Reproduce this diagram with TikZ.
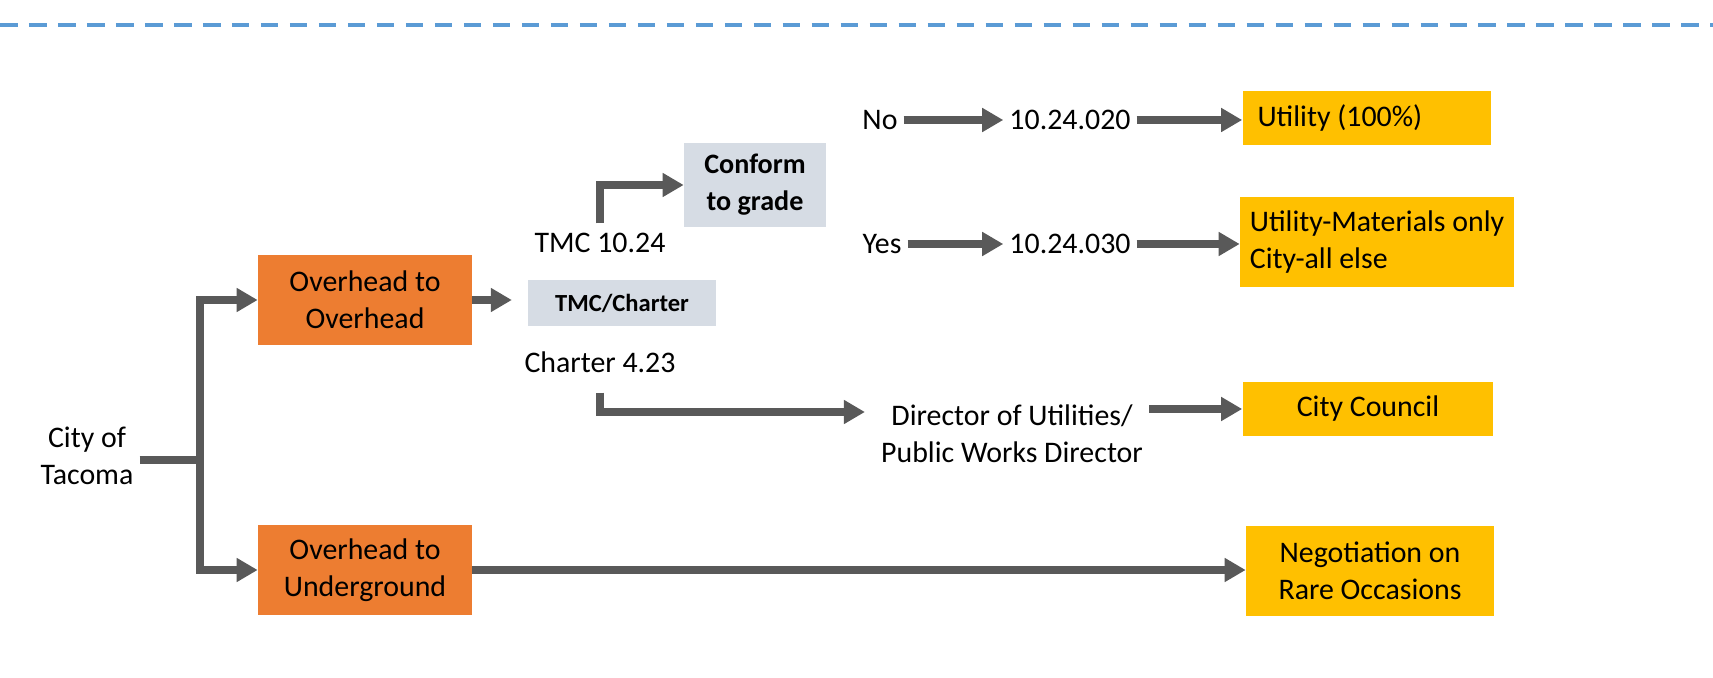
\documentclass[tikz,border=0pt]{standalone}
\usepackage{fontspec}
\setmainfont{Carlito}
\usetikzlibrary{arrows.meta}

\definecolor{orng}{HTML}{ED7D31}
\definecolor{gold}{HTML}{FFC000}
\definecolor{pale}{HTML}{D6DCE4}
\definecolor{darkarrow}{HTML}{595959}
\definecolor{lineblue}{HTML}{5B9BD5}

\begin{document}
\begin{tikzpicture}[x=0.02cm, y=-0.02cm, font=\fontsize{17}{21}\selectfont,
    orangebox/.style={fill=orng, minimum width=4.28cm, minimum height=1.82cm, align=center},
    goldbox/.style={fill=gold, minimum height=1.08cm, align=center},
    palebox/.style={fill=pale, align=center},
    bar/.style={line width=4pt, color=darkarrow},
    bararrow/.style={bar, -{Triangle[length=12pt, width=13pt]}}]
\useasboundingbox (0,0) rectangle (1713,678);

\draw[lineblue, line width=2.5pt, dash pattern=on 10pt off 6.5pt] (0,25) -- (1713,25);

%left side
\node[align=center] (city) at (87,456) {City of\\Tacoma};
\node[orangebox] (oh1) at (365,300) {Overhead to\\Overhead};
\node[orangebox] (oh2) at (365,570) {Overhead to\\Underground};
\coordinate (trunk) at (200,460);

%middle
\node[palebox, minimum width=3.76cm, minimum height=0.94cm, font=\fontsize{14}{17}\selectfont\bfseries] (tmcch) at (622,303) {TMC/Charter};
\node (tmc1024) at (600,243) {TMC 10.24};
\node (ch423) at (600,362) {Charter 4.23};
\node[palebox, minimum width=2.84cm, minimum height=1.68cm, font=\fontsize{16}{21}\selectfont\bfseries] (conform) at (755,185) {Conform\\to grade};

%right side
\node (no) at (880,120) {No};
\node (n020) at (1070,120) {10.24.020};
\node (yes) at (882,244) {Yes};
\node (n030) at (1070,244) {10.24.030};
\node[align=center] (dir) at (1012,434) {Director of Utilities/\\Public Works Director};

\node[goldbox, inner xsep=0.3cm] (util) at (1367,118) {\makebox[4.38cm][l]{Utility (100\%)}};
\node[goldbox, align=left, minimum width=5.48cm, minimum height=1.82cm] (mat) at (1377,242) {Utility-Materials only\\City-all else};
\node[goldbox, minimum width=5.02cm] (council) at (1368,409) {City Council};
\node[goldbox, minimum width=4.96cm, minimum height=1.8cm] (nego) at (1370,571) {Negotiation on\\Rare Occasions};

\draw[bar] (trunk -| city.east) -- (trunk);
\draw[bararrow] (trunk) |- (oh1);
\draw[bararrow] (trunk) |- (oh2);
\draw[bararrow, shorten >=9pt] (oh1) -- (oh1 -| tmcch.west);
\draw[bararrow] ([yshift=2pt]tmc1024.north) |- (conform.west);
\coordinate (dirin) at ([shift={(-10,-22)}]dir.west);
\draw[bararrow] ([yshift=-8pt]ch423.south) |- (dirin);
\foreach \a/\b in {no/n020, n020/util, yes/n030, n030/mat}
    \draw[bararrow] (\a) -- (\a -| \b.west);
\draw[bararrow] (council -| dir.east) -- (council.west);
\draw[bararrow] (oh2) -- (oh2 -| nego.west);
\end{tikzpicture}
\end{document}
